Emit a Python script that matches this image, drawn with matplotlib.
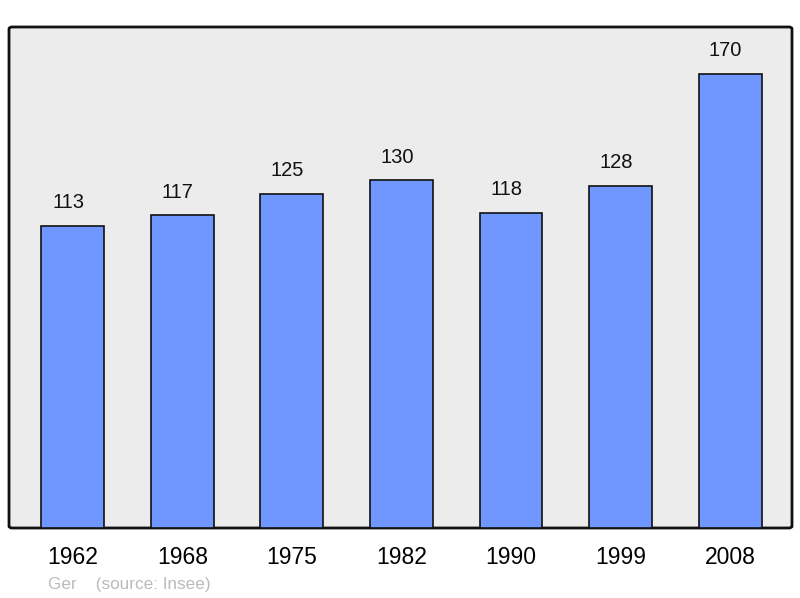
import matplotlib
matplotlib.use("Agg")
import matplotlib.pyplot as plt
from matplotlib.patches import FancyBboxPatch

years = ["1962", "1968", "1975", "1982", "1990", "1999", "2008"]
population = [113, 117, 125, 130, 118, 128, 170]

plt.rcParams['font.family'] = ['Liberation Sans', 'DejaVu Sans']

fig = plt.figure(figsize=(8, 5.98), dpi=100)
ax = fig.add_axes([9 / 800, 70 / 598, 783 / 800, 501 / 598])
ax.set_facecolor("none")
ax.set_xlim(-0.584, 6.566)
ax.set_ylim(0, 187.4)

# rounded frame
frame = FancyBboxPatch((0, 0), 1, 1, boxstyle="round,pad=0,rounding_size=0.004",
                       transform=ax.transAxes, facecolor="#ececec",
                       edgecolor="#111111", linewidth=2, zorder=0, clip_on=False)
ax.add_patch(frame)

x = range(len(years))
ax.bar(x, population, width=0.575, color="#7097ff", edgecolor="#111111",
       linewidth=1.2, zorder=2)
for xi, v in zip(x, population):
    ax.annotate(str(v), (xi, v), xytext=(-3.3, 16.5), textcoords="offset points",
                ha="center", va="center", fontsize=14.5, color="#111111")

ax.set_xticks(list(x))
ax.set_xticklabels(years, fontsize=16.5)
ax.tick_params(axis="x", length=0, pad=13)
ax.set_yticks([])
for s in ax.spines.values():
    s.set_visible(False)

fig.text(48 / 800, 1 - 584 / 598, "Ger    (source: Insee)", fontsize=12.3,
         color="#bbbbbb", ha="left", va="center")

fig.savefig("out.png", dpi=100)
